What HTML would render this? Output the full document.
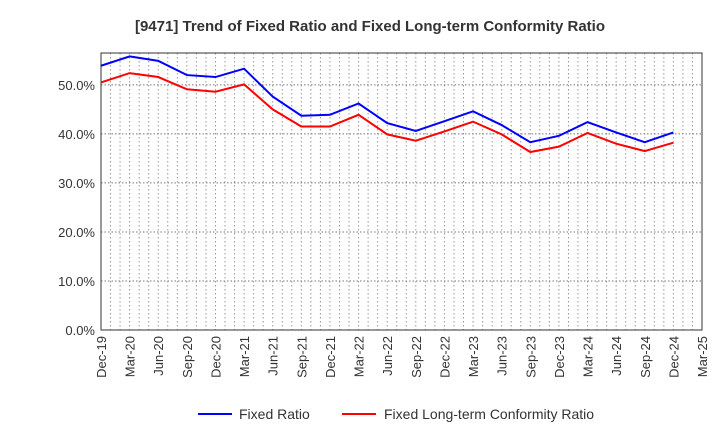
<!DOCTYPE html>
<html><head><meta charset="utf-8"><style>
body{margin:0;background:#fff;font-family:"Liberation Sans",sans-serif;}
</style></head><body>
<svg id="chart" width="720" height="440" xmlns="http://www.w3.org/2000/svg" font-family="Liberation Sans, sans-serif">
<text x="370" y="31" text-anchor="middle" font-size="15" font-weight="bold" fill="#333">[9471]  Trend of Fixed Ratio and Fixed Long-term Conformity Ratio</text>
<g id="grid"></g><g id="axes"></g><g id="series"></g>
<g>
<line x1="198" y1="414" x2="232" y2="414" stroke="#0000ff" stroke-width="2"/>
<text x="239" y="419" font-size="14" fill="#333">Fixed Ratio</text>
<line x1="342" y1="414" x2="376" y2="414" stroke="#ff0000" stroke-width="2"/>
<text x="384" y="419" font-size="14" fill="#333">Fixed Long-term Conformity Ratio</text>
</g>
</svg>
<script>
const categories=["Dec-19","Mar-20","Jun-20","Sep-20","Dec-20","Mar-21","Jun-21","Sep-21","Dec-21","Mar-22","Jun-22","Sep-22","Dec-22","Mar-23","Jun-23","Sep-23","Dec-23","Mar-24","Jun-24","Sep-24","Dec-24","Mar-25"];
const fixedRatio=[53.9,55.8,54.9,52.0,51.6,53.3,47.6,43.7,43.9,46.2,42.2,40.6,42.6,44.6,41.8,38.3,39.6,42.4,40.3,38.3,40.3];
const conformityRatio=[50.5,52.4,51.6,49.1,48.6,50.1,45.0,41.5,41.5,43.9,39.9,38.6,40.5,42.5,39.9,36.3,37.4,40.2,38.0,36.5,38.2];
const yTicks=[0,10,20,30,40,50];
const L=101,R=702,T=53,B=330,yMax=56.5;
const NS="http://www.w3.org/2000/svg";
const x=i=>L+i*(R-L)/(categories.length-1);
const y=v=>B-v/yMax*(B-T);
function mk(tag,attrs,parent){const e=document.createElementNS(NS,tag);for(const k in attrs)e.setAttribute(k,attrs[k]);parent.appendChild(e);return e;}
const grid=document.getElementById('grid'),axes=document.getElementById('axes'),ser=document.getElementById('series');
for(let m=1;m<(categories.length-1)*3;m++){const xx=L+m*(R-L)/((categories.length-1)*3);
const g=mk('line',{x1:xx,x2:xx,y1:T,y2:B,stroke:'#999','stroke-dasharray':'1.5,2.5','stroke-width':1},grid);

}
yTicks.forEach(t=>{if(t>0){const g=mk('line',{x1:L,x2:R,y1:y(t),y2:y(t),stroke:'#777','stroke-dasharray':'1.5,2','stroke-width':1},grid);

}
const tx=mk('text',{x:L-6,y:y(t)+5,'text-anchor':'end','font-size':13,fill:'#333'},axes);tx.textContent=t.toFixed(1)+'%';

});
const fr=mk('rect',{x:L,y:T,width:R-L,height:B-T,fill:'none',stroke:'#333','stroke-width':1},axes);


categories.forEach((c,i)=>{const tx=mk('text',{transform:`translate(${x(i)+5},${B+6}) rotate(-90)`,'text-anchor':'end','font-size':13,fill:'#333'},axes);tx.textContent=c;

});
function line(data,color,name){const p=mk('polyline',{points:data.map((v,i)=>x(i)+','+y(v)).join(' '),fill:'none',stroke:color,'stroke-width':2},ser);

}
line(fixedRatio,'#0000ff','fixed-ratio-line');
line(conformityRatio,'#ff0000','conformity-ratio-line');
</script>
</body></html>
